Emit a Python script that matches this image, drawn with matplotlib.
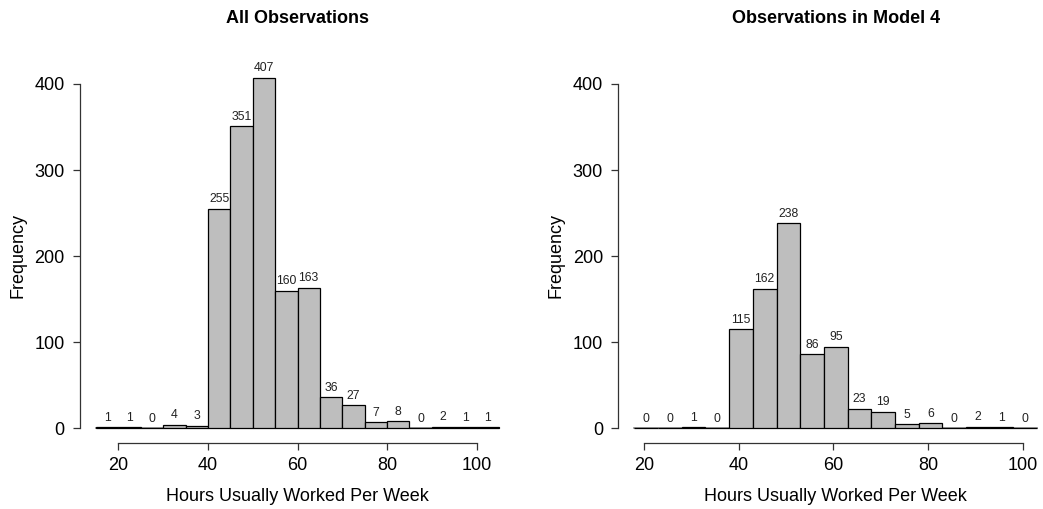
import numpy as np
import matplotlib
matplotlib.use("Agg")
import matplotlib.pyplot as plt

plt.rcParams['font.family'] = ['Liberation Sans', 'DejaVu Sans']

# bin edges and counts for the two histograms
all_breaks = np.arange(15, 106, 5)
all_counts = [1, 1, 0, 4, 3, 255, 351, 407, 160, 163, 36, 27, 7, 8, 0, 2, 1, 1]

m4_breaks = np.arange(18, 104, 5)
m4_counts = [0, 0, 1, 0, 115, 162, 238, 86, 95, 23, 19, 5, 6, 0, 2, 1, 0]

x_ticks = [20, 40, 60, 80, 100]
y_ticks = [0, 100, 200, 300, 400]

W, H = 1043, 509
fig = plt.figure(figsize=(W / 100, H / 100), dpi=100)


def draw_hist(left_px, breaks, counts, title):
    bottom_px, top_px = 443.3, 38.0
    width_px = 435.0
    ax = fig.add_axes([left_px / W, (H - bottom_px) / H, width_px / W, (bottom_px - top_px) / H])
    span = breaks[-1] - breaks[0]
    ax.set_xlim(breaks[0] - 0.04 * span, breaks[-1] + 0.04 * span)
    ax.set_ylim(-17.4, 453.3)

    # gray baseline under the bins
    ax.plot([breaks[0], breaks[-1]], [0, 0], color='#8a8a8a', lw=1.2, zorder=1)
    lefts = breaks[:-1]
    widths = np.diff(breaks)
    ax.bar(lefts, counts, width=widths, align='edge', color='#BEBEBE',
           edgecolor='black', linewidth=0.9, zorder=2)
    for x0, w, c in zip(lefts, widths, counts):
        ax.annotate(str(c), (x0 + w / 2, c), xytext=(0, 2.5), textcoords='offset points',
                    ha='center', va='bottom', fontsize=8.8, color='#222222')

    for s in ['top', 'right']:
        ax.spines[s].set_visible(False)
    ax.spines['left'].set_bounds(0, 400)
    ax.spines['bottom'].set_bounds(20, 100)
    for s in ['left', 'bottom']:
        ax.spines[s].set_linewidth(0.9)
        ax.spines[s].set_color('#333333')
    ax.set_xticks(x_ticks)
    ax.set_yticks(y_ticks)
    ax.tick_params(axis='both', length=5, width=0.9, color='#333333', labelsize=13)
    ax.tick_params(axis='y', pad=6)
    ax.tick_params(axis='x', pad=5)
    ax.set_xlabel('Hours Usually Worked Per Week', fontsize=13)
    ax.xaxis.set_label_coords(0.5, -0.11)
    ax.set_ylabel('Frequency', fontsize=13)
    ax.yaxis.set_label_coords(-0.124, (bottom_px - 256) / (bottom_px - top_px))
    ax.set_title(title, fontsize=13, fontweight='bold', pad=0, y=(bottom_px - 18) / (bottom_px - top_px),
                 va='center')
    return ax


draw_hist(80.0, all_breaks, all_counts, 'All Observations')
draw_hist(618.3, m4_breaks, m4_counts, 'Observations in Model 4')

fig.savefig('out.png', dpi=100)
